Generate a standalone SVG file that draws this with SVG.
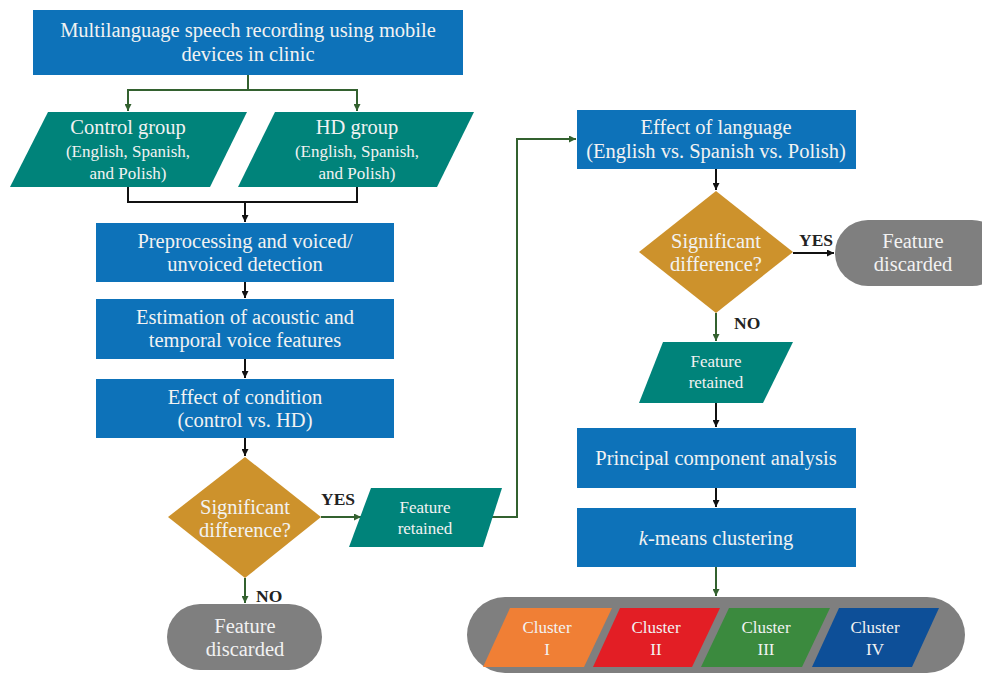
<svg xmlns="http://www.w3.org/2000/svg" width="982" height="673" viewBox="0 0 982 673">
<defs>
<marker id="ak" viewBox="0 0 10 10" refX="10" refY="5" markerWidth="7" markerHeight="7" markerUnits="userSpaceOnUse" orient="auto"><path d="M0,0 L10,5 L0,10 z" fill="#111"/></marker>
<marker id="ag" viewBox="0 0 10 10" refX="10" refY="5" markerWidth="7" markerHeight="7" markerUnits="userSpaceOnUse" orient="auto"><path d="M0,0 L10,5 L0,10 z" fill="#33612f"/></marker>
<style>
.blue{fill:#0d72b9}
.teal{fill:#00837a}
.gold{fill:#cd922c}
.grey{fill:#7f7f7f}
.t{font-family:"Liberation Serif","Times New Roman",serif;fill:#f2f2f2;text-anchor:middle;font-size:20.5px}
.ts{font-size:17px}
.lab{font-family:"Liberation Serif","Times New Roman",serif;fill:#222;font-weight:bold;font-size:17.5px}
.k{fill:none;stroke:#111;stroke-width:2}
.g{fill:none;stroke:#33612f;stroke-width:2}
</style>
</defs>
<g id="connectors">
<path class="g" d="M248,75 V90 H128 V111" marker-end="url(#ag)"/>
<path class="g" d="M248,90 H357 V111" marker-end="url(#ag)"/>
<path class="k" d="M128,187 V202 H357 V187"/>
<path class="k" d="M245,202 V222" marker-end="url(#ak)"/>
<path class="k" d="M245,282 V298" marker-end="url(#ak)"/>
<path class="k" d="M245,359 V378" marker-end="url(#ak)"/>
<path class="k" d="M245,438 V456" marker-end="url(#ak)"/>
<path class="g" d="M321,517 H361" marker-end="url(#ag)"/>
<path class="g" d="M245,578 V603" marker-end="url(#ag)"/>
<path class="g" d="M490,517 H517 V139 H576" marker-end="url(#ag)"/>
<path class="k" d="M716,169 V190" marker-end="url(#ak)"/>
<path class="k" d="M793,253 H834" marker-end="url(#ak)"/>
<path class="g" d="M716,313 V341" marker-end="url(#ag)"/>
<path class="k" d="M716,403 V427" marker-end="url(#ak)"/>
<path class="k" d="M716,488 V507" marker-end="url(#ak)"/>
<path class="g" d="M716,567 V596" marker-end="url(#ag)"/>
<text class="lab" x="321" y="505">YES</text>
<text class="lab" x="256" y="602">NO</text>
<text class="lab" x="799" y="246">YES</text>
<text class="lab" x="734" y="329">NO</text>
</g>
<g id="recording">
<rect class="blue" x="33" y="10" width="430" height="65"/>
<text class="t" x="248" y="37">Multilanguage speech recording using mobile</text>
<text class="t" x="248" y="61">devices in clinic</text>
</g>
<g id="control">
<polygon class="teal" points="48,112 247,112 210,187 10,187"/>
<text class="t" x="128" y="134">Control group</text>
<text class="t ts" x="128" y="157">(English, Spanish,</text>
<text class="t ts" x="128" y="179">and Polish)</text>
</g>
<g id="hd">
<polygon class="teal" points="275,112 474,112 437,187 238,187"/>
<text class="t" x="357" y="134">HD group</text>
<text class="t ts" x="357" y="157">(English, Spanish,</text>
<text class="t ts" x="357" y="179">and Polish)</text>
</g>
<g id="preprocessing">
<rect class="blue" x="96" y="223" width="298" height="59"/>
<text class="t" x="245" y="248">Preprocessing and voiced/</text>
<text class="t" x="245" y="271">unvoiced detection</text>
</g>
<g id="estimation">
<rect class="blue" x="96" y="299" width="298" height="60"/>
<text class="t" x="245" y="324">Estimation of acoustic and</text>
<text class="t" x="245" y="347">temporal voice features</text>
</g>
<g id="condition">
<rect class="blue" x="96" y="379" width="298" height="59"/>
<text class="t" x="245" y="404">Effect of condition</text>
<text class="t" x="245" y="427">(control vs. HD)</text>
</g>
<g id="decision1">
<polygon class="gold" points="245,457 321,517 245,578 168,517"/>
<text class="t" x="245" y="514">Significant</text>
<text class="t" x="245" y="537">difference?</text>
</g>
<g id="retained1">
<polygon class="teal" points="371,488 502,488 483,547 349,547"/>
<text class="t ts" x="425" y="513">Feature</text>
<text class="t ts" x="425" y="534">retained</text>
</g>
<g id="discarded1">
<rect class="grey" x="167" y="604" width="155" height="66" rx="33"/>
<text class="t" x="245" y="633">Feature</text>
<text class="t" x="245" y="656">discarded</text>
</g>
<g id="language">
<rect class="blue" x="577" y="110" width="279" height="59"/>
<text class="t" x="716" y="134">Effect of language</text>
<text class="t" x="716" y="158">(English vs. Spanish vs. Polish)</text>
</g>
<g id="decision2">
<polygon class="gold" points="716,191 793,252 716,313 639,252"/>
<text class="t" x="716" y="248">Significant</text>
<text class="t" x="716" y="271">difference?</text>
</g>
<g id="discarded2">
<rect class="grey" x="835" y="220" width="170" height="66" rx="33"/>
<text class="t" x="913" y="248">Feature</text>
<text class="t" x="913" y="271">discarded</text>
</g>
<g id="retained2">
<polygon class="teal" points="663,342 793,342 763,403 639,403"/>
<text class="t ts" x="716" y="367">Feature</text>
<text class="t ts" x="716" y="388">retained</text>
</g>
<g id="pca">
<rect class="blue" x="577" y="428" width="279" height="60"/>
<text class="t" x="716" y="465">Principal component analysis</text>
</g>
<g id="kmeans">
<rect class="blue" x="577" y="508" width="279" height="59"/>
<text class="t" x="716" y="545"><tspan font-style="italic">k</tspan>-means clustering</text>
</g>
<g id="clusters">
<rect class="grey" x="467" y="597" width="498" height="76" rx="38"/>
<polygon fill="#f07f35" points="510,608 612,608 584,667 483,667"/>
<polygon fill="#e31e25" points="620,608 720,608 692,667 593,667"/>
<polygon fill="#3b8a3e" points="729,608 830,608 802,667 701,667"/>
<polygon fill="#0d4f98" points="839,608 939,608 912,667 812,667"/>
<text class="t ts" x="547" y="633">Cluster</text>
<text class="t ts" x="547" y="655">I</text>
<text class="t ts" x="656" y="633">Cluster</text>
<text class="t ts" x="656" y="655">II</text>
<text class="t ts" x="766" y="633">Cluster</text>
<text class="t ts" x="766" y="655">III</text>
<text class="t ts" x="875" y="633">Cluster</text>
<text class="t ts" x="875" y="655">IV</text>
</g>
</svg>
